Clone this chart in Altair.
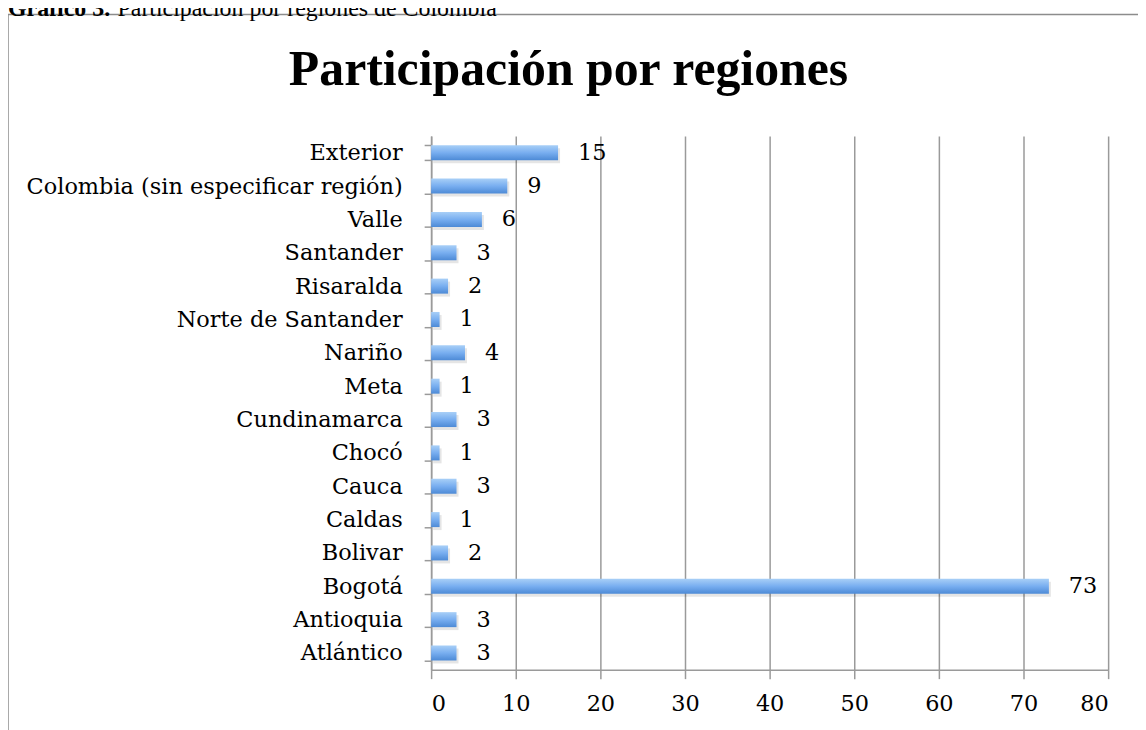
import altair as alt
import pandas as pd

regions = ["Atlántico", "Antioquia", "Bogotá", "Bolivar", "Caldas", "Cauca", "Chocó",
           "Cundinamarca", "Meta", "Nariño", "Norte de Santander", "Risaralda",
           "Santander", "Valle", "Colombia (sin especificar región)", "Exterior"]
values = [3, 3, 73, 2, 1, 3, 1, 3, 1, 4, 1, 2, 3, 6, 9, 15]
x_ticks = [0, 10, 20, 30, 40, 50, 60, 70, 80]
chart_title = "Participación por regiones"
caption_bold = "Gráfico 3."
caption_rest = "Participación por regiones de Colombia"

df = pd.DataFrame({"region": regions, "value": values})
order = list(reversed(regions))

SERIF = "DejaVu Serif"
FS = 22.5

y_enc = alt.Y("region:N", sort=order, title=None,
              scale=alt.Scale(paddingInner=0.55, paddingOuter=0.275),
              axis=alt.Axis(tickBand="extent", labelFont=SERIF, labelFontSize=FS,
                            labelColor="#000", labelPadding=22, tickSize=7,
                            labelLimit=0,
                            domainColor="#9a9a9a", tickColor="#9a9a9a",
                            domainWidth=1.5, tickWidth=1.5, grid=False))
x_enc = alt.X("value:Q", title=None,
              scale=alt.Scale(domain=[0, 80], nice=False),
              axis=alt.Axis(values=x_ticks, labelFont=SERIF, labelFontSize=FS,
                            labelColor="#000", labelPadding=14, tickSize=9,
                            domainColor="#9a9a9a", tickColor="#9a9a9a",
                            gridColor="#9a9a9a", gridWidth=1.5,
                            domainWidth=1.5, tickWidth=1.5, grid=True))

base = alt.Chart(df)

shadow = base.mark_bar(color="#000000", opacity=0.10, xOffset=2, yOffset=3).encode(
    x="value:Q", y=alt.Y("region:N", sort=order))

bars = base.mark_bar(
    color=alt.Gradient(gradient="linear",
                       stops=[alt.GradientStop(color="#a8cff7", offset=0),
                              alt.GradientStop(color="#78aef0", offset=0.5),
                              alt.GradientStop(color="#4d8ad6", offset=1)],
                       x1=0, y1=0, x2=0, y2=1)
).encode(x=x_enc, y=y_enc)

labels = base.mark_text(align="left", baseline="middle", dx=20, font=SERIF,
                        fontSize=FS, color="#000").encode(
    x="value:Q", y=alt.Y("region:N", sort=order), text="value:Q")

one = pd.DataFrame({"k": [0]})

frame = alt.Chart(one).mark_rect(
    fill=None, stroke="#8c8c8c", strokeWidth=1.5).encode(
    x=alt.value(-425), x2=alt.value(730), y=alt.value(-122), y2=alt.value(620))

title = alt.Chart(one).mark_text(
    align="center", baseline="alphabetic", font="Liberation Serif", fontSize=50,
    fontWeight="bold", color="#000").encode(
    text=alt.value(chart_title), x=alt.value(138), y=alt.value(-51))

caption = alt.Chart(one).mark_text(
    align="left", baseline="alphabetic", font="Liberation Serif", fontSize=24,
    fontWeight="bold", color="#000").encode(
    text=alt.value(caption_bold), x=alt.value(-425), y=alt.value(-121))
caption2 = alt.Chart(one).mark_text(
    align="left", baseline="alphabetic", font="Liberation Serif", fontSize=24,
    color="#000").encode(
    text=alt.value(caption_rest), x=alt.value(-315), y=alt.value(-121))

chart = alt.layer(frame, shadow, bars, labels, title, caption, caption2).properties(
    width=680, height=536,
    autosize=alt.AutoSizeParams(type="none"),
    padding={"left": 425, "top": 127, "right": 30, "bottom": 60},
).configure_view(stroke=None)

chart.save("out.html", embed_options={"renderer": "svg", "actions": False})
